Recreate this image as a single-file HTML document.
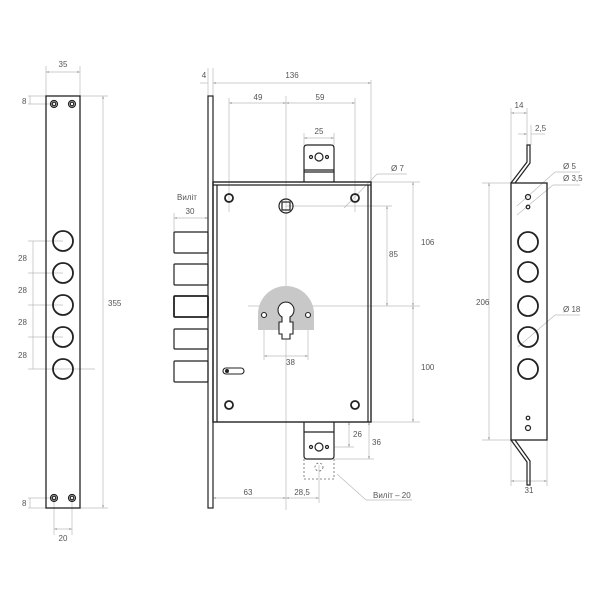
<!DOCTYPE html>
<html><head><meta charset="utf-8"><style>
html,body{margin:0;padding:0;background:#fff;}
svg{display:block;}
text{font-family:"Liberation Sans",sans-serif;font-size:8px;fill:#555;}
</style></head><body>
<svg width="600" height="600" viewBox="0 0 600 600" xmlns="http://www.w3.org/2000/svg">
<defs>
<marker id="a" viewBox="0 0 6 6" refX="6" refY="3" markerWidth="4" markerHeight="4" orient="auto-start-reverse"><path d="M0,1 L6,3 L0,5z" fill="#999"/></marker>
</defs>
<g stroke="#bbb" stroke-width="0.7" fill="none">
<!-- left strip dims -->
<line x1="46" y1="72" x2="80" y2="72" marker-start="url(#a)" marker-end="url(#a)"/>
<line x1="46" y1="66" x2="46" y2="96"/><line x1="80" y1="66" x2="80" y2="96"/>
<line x1="80" y1="96" x2="108" y2="96"/><line x1="80" y1="508" x2="108" y2="508"/>
<line x1="103" y1="96" x2="103" y2="508" marker-start="url(#a)" marker-end="url(#a)"/>
<line x1="28" y1="96" x2="46" y2="96"/><line x1="28" y1="104" x2="54" y2="104"/>
<line x1="30" y1="96" x2="30" y2="104"/>
<line x1="28" y1="498" x2="54" y2="498"/><line x1="28" y1="508" x2="46" y2="508"/>
<line x1="30" y1="498" x2="30" y2="508"/>
<line x1="28" y1="241" x2="63" y2="241"/><line x1="28" y1="273" x2="63" y2="273"/><line x1="28" y1="305" x2="63" y2="305"/><line x1="28" y1="337" x2="63" y2="337"/><line x1="28" y1="369" x2="95" y2="369"/>
<line x1="33" y1="241" x2="33" y2="369"/>
<line x1="54" y1="498" x2="54" y2="535"/><line x1="72" y1="498" x2="72" y2="535"/>
<line x1="54" y1="529" x2="72" y2="529" marker-start="url(#a)" marker-end="url(#a)"/>
<!-- main dims -->
<line x1="208" y1="68" x2="208" y2="96"/><line x1="213" y1="68" x2="213" y2="96"/>
<line x1="200" y1="83" x2="208" y2="83"/>
<line x1="213" y1="83" x2="371" y2="83" marker-start="url(#a)" marker-end="url(#a)"/>
<line x1="371" y1="80" x2="371" y2="182"/>
<line x1="229" y1="98" x2="229" y2="212"/><line x1="355" y1="98" x2="355" y2="212"/>
<line x1="286" y1="96" x2="286" y2="510"/>
<line x1="229" y1="103" x2="286" y2="103" marker-start="url(#a)" marker-end="url(#a)"/>
<line x1="286" y1="103" x2="355" y2="103" marker-start="url(#a)" marker-end="url(#a)"/>
<line x1="304" y1="133" x2="304" y2="145"/><line x1="334" y1="133" x2="334" y2="145"/>
<line x1="304" y1="138" x2="334" y2="138" marker-start="url(#a)" marker-end="url(#a)"/>
<line x1="344" y1="208" x2="377" y2="174"/><line x1="377" y1="174" x2="407" y2="174"/>
<line x1="174" y1="213" x2="174" y2="232"/>
<line x1="174" y1="218" x2="208" y2="218" marker-start="url(#a)" marker-end="url(#a)"/>
<line x1="371" y1="182" x2="420" y2="182"/><line x1="371" y1="422" x2="420" y2="422"/>
<line x1="413" y1="182" x2="413" y2="306" marker-start="url(#a)" marker-end="url(#a)"/>
<line x1="413" y1="306" x2="413" y2="422" marker-start="url(#a)" marker-end="url(#a)"/>
<line x1="286" y1="206" x2="392" y2="206"/>
<line x1="387" y1="206" x2="387" y2="306" marker-start="url(#a)" marker-end="url(#a)"/>
<line x1="248" y1="306" x2="420" y2="306"/>
<line x1="264" y1="315" x2="264" y2="360"/><line x1="308" y1="315" x2="308" y2="360"/>
<line x1="264" y1="356" x2="308" y2="356" marker-start="url(#a)" marker-end="url(#a)"/>
<line x1="334" y1="447" x2="354" y2="447"/><line x1="334" y1="459" x2="374" y2="459"/>
<line x1="349" y1="422" x2="349" y2="447" marker-start="url(#a)" marker-end="url(#a)"/>
<line x1="369" y1="422" x2="369" y2="459" marker-start="url(#a)" marker-end="url(#a)"/>
<line x1="213" y1="498" x2="286" y2="498" marker-start="url(#a)" marker-end="url(#a)"/>
<line x1="286" y1="498" x2="319" y2="498" marker-start="url(#a)" marker-end="url(#a)"/>
<line x1="319" y1="465" x2="319" y2="503"/>
<line x1="337" y1="474" x2="366" y2="500"/><line x1="366" y1="500" x2="412" y2="500"/>
<!-- right strip dims -->
<line x1="511" y1="108" x2="511" y2="183"/><line x1="527" y1="108" x2="527" y2="145"/><line x1="531" y1="125" x2="531" y2="145"/>
<line x1="511" y1="113" x2="527" y2="113" marker-start="url(#a)" marker-end="url(#a)"/>
<line x1="518" y1="134" x2="527" y2="134" marker-end="url(#a)"/><line x1="531" y1="134" x2="545" y2="134"/>
<line x1="482" y1="183" x2="511" y2="183"/><line x1="482" y1="440" x2="511" y2="440"/>
<line x1="489" y1="183" x2="489" y2="440" marker-start="url(#a)" marker-end="url(#a)"/>
<line x1="517" y1="206" x2="555" y2="172"/><line x1="555" y1="172" x2="580" y2="172"/>
<line x1="517" y1="215" x2="553" y2="185"/><line x1="553" y1="185" x2="580" y2="185"/>
<line x1="518" y1="347" x2="555" y2="315"/><line x1="555" y1="315" x2="580" y2="315"/>
<line x1="511" y1="440" x2="511" y2="486"/><line x1="547" y1="440" x2="547" y2="486"/>
<line x1="511" y1="481" x2="547" y2="481" marker-start="url(#a)" marker-end="url(#a)"/>
</g>
<!-- left strip -->
<g stroke="#222" fill="none">
<rect x="46" y="96" width="34" height="412" stroke-width="1.3"/>
<g stroke-width="1.2">
<circle cx="54" cy="104" r="3.5"/><circle cx="54" cy="104" r="1.8"/>
<circle cx="72" cy="104" r="3.5"/><circle cx="72" cy="104" r="1.8"/>
<circle cx="54" cy="498" r="3.5"/><circle cx="54" cy="498" r="1.8"/>
<circle cx="72" cy="498" r="3.5"/><circle cx="72" cy="498" r="1.8"/>
</g>
<g stroke-width="1.8">
<circle cx="63" cy="241" r="10"/><circle cx="63" cy="273" r="10"/><circle cx="63" cy="305" r="10"/><circle cx="63" cy="337" r="10"/><circle cx="63" cy="369" r="10"/>
</g>
</g>
<!-- main lock -->
<g stroke="#222" fill="none" stroke-width="1.2">
<rect x="208" y="96" width="5" height="412"/>
<rect x="213" y="182" width="158" height="240" stroke-width="1.4"/>
<line x1="217" y1="185" x2="217" y2="422"/><line x1="368" y1="185" x2="368" y2="422"/><line x1="213" y1="185" x2="371" y2="185"/>
<rect x="174" y="232" width="34" height="21" rx="1"/>
<rect x="174" y="264" width="34" height="21" rx="1"/>
<rect x="174" y="296" width="34" height="21" rx="1" stroke-width="1.8"/>
<rect x="174" y="329" width="34" height="20" rx="1"/>
<rect x="174" y="361" width="34" height="21" rx="1"/>
<path d="M304,182 V148 Q304,145 307,145 H331 Q334,145 334,148 V182"/>
<line x1="304" y1="170" x2="334" y2="170"/><line x1="304" y1="172" x2="334" y2="172"/>
<circle cx="319" cy="157" r="4"/><circle cx="311" cy="157" r="1.5"/><circle cx="327" cy="157" r="1.5"/>
<path d="M304,422 V456 Q304,459 307,459 H331 Q334,459 334,456 V422"/>
<line x1="304" y1="432" x2="334" y2="432"/>
<circle cx="319" cy="447" r="4"/><circle cx="311" cy="447" r="1.5"/><circle cx="327" cy="447" r="1.5"/>
<path d="M304,459 V479 H334 V459" stroke-dasharray="2,2" stroke="#666" stroke-width="0.8"/>
<circle cx="319" cy="467" r="4" stroke-dasharray="2,2" stroke="#666" stroke-width="0.8"/>
<g stroke-width="1.8">
<circle cx="229" cy="198" r="4"/><circle cx="355" cy="198" r="4"/><circle cx="229" cy="405" r="4"/><circle cx="355" cy="405" r="4"/>
</g>
<circle cx="286" cy="206" r="7"/><rect x="282" y="202" width="8" height="8"/>
</g>
<path d="M258,330 V314 A28,28 0 0 1 314,314 V330 Z" fill="#c8c8c8"/>
<g stroke="#222" fill="#fff" stroke-width="1.1">
<path d="M282,317 A8,8 0 1 1 290,317 V322 H293 V334 H290 V339 H282 V334 H279 V322 H282 Z"/>
<circle cx="264" cy="315" r="2.5"/><circle cx="308" cy="315" r="2.5"/>
<rect x="223" y="368" width="21" height="6" rx="3"/>
</g>
<circle cx="227" cy="371" r="2" fill="#222"/>
<!-- right strip -->
<g stroke="#222" fill="none" stroke-width="1.2">
<path d="M511,183 L527,162 V145 H530 V163 L515,183"/>
<path d="M511,440 L527,462 V485 H530 V461 L515,440"/>
<rect x="511" y="183" width="36" height="257" stroke-width="1.3"/>
<circle cx="528" cy="197" r="2.5"/><circle cx="528" cy="207" r="1.8"/>
<circle cx="528" cy="418" r="1.8"/><circle cx="528" cy="428" r="2.5"/>
<g stroke-width="1.8">
<circle cx="528" cy="242" r="10"/><circle cx="528" cy="272" r="10"/><circle cx="528" cy="306" r="10"/><circle cx="528" cy="337" r="10"/><circle cx="528" cy="369" r="10"/>
</g>
</g>
<!-- labels -->
<text x="63" y="67" text-anchor="middle">35</text>
<text x="22" y="104">8</text><text x="22" y="506">8</text>
<text x="18" y="261">28</text><text x="18" y="293">28</text><text x="18" y="325">28</text><text x="18" y="358">28</text>
<text x="108" y="306">355</text>
<text x="63" y="541" text-anchor="middle">20</text>
<text x="204" y="78" text-anchor="middle">4</text>
<text x="292" y="78" text-anchor="middle">136</text>
<text x="258" y="100" text-anchor="middle">49</text>
<text x="320" y="100" text-anchor="middle">59</text>
<text x="319" y="134" text-anchor="middle">25</text>
<text x="391" y="171">Ø 7</text>
<text x="187" y="200" text-anchor="middle">Виліт</text>
<text x="190" y="214" text-anchor="middle">30</text>
<text x="421" y="245">106</text>
<text x="389" y="257">85</text>
<text x="421" y="370">100</text>
<text x="286" y="365" text-anchor="start">38</text>
<text x="353" y="437">26</text>
<text x="372" y="445">36</text>
<text x="248" y="495" text-anchor="middle">63</text>
<text x="302" y="495" text-anchor="middle">28,5</text>
<text x="373" y="498">Виліт – 20</text>
<text x="519" y="108" text-anchor="middle">14</text>
<text x="535" y="131">2,5</text>
<text x="563" y="169">Ø 5</text>
<text x="563" y="181">Ø 3,5</text>
<text x="476" y="305">206</text>
<text x="563" y="312">Ø 18</text>
<text x="529" y="493" text-anchor="middle">31</text>
</svg>
</body></html>
